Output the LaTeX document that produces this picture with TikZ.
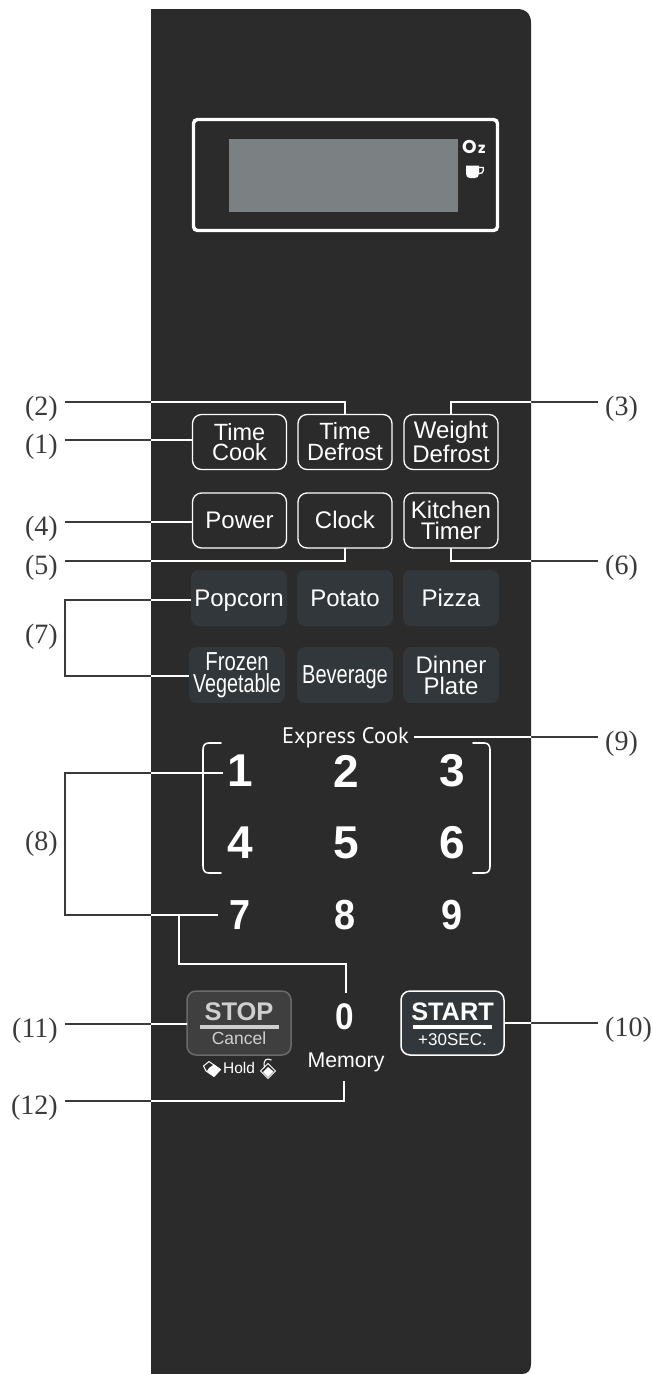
\documentclass[tikz,border=0pt]{standalone}
\usepackage{fontspec}
\usepackage{graphicx}
\setmainfont{Liberation Sans}
\newfontfamily\labfont{Liberation Serif}
\newfontfamily\expfont{PT Sans}
\newfontfamily\ozfont{Poppins}
\definecolor{panelc}{HTML}{2B2B2B}
\definecolor{softc}{HTML}{32373B}
\definecolor{screenc}{HTML}{7B8083}
\definecolor{inkc}{HTML}{3A3A3A}
\definecolor{stopc}{HTML}{3F3F3F}
\definecolor{stopedge}{HTML}{6A6A6A}
\definecolor{stoptext}{HTML}{CFCFCF}
\tikzset{
  keybtn/.style={draw=white,line width=1.3pt,rounded corners=9pt,minimum width=94pt,minimum height=55pt,outer sep=0pt,inner sep=0pt,text=white,align=center,font=\fontsize{24}{21}\selectfont},
  softbtn/.style={fill=softc,rounded corners=8pt,minimum width=96pt,minimum height=56pt,outer sep=0pt,inner sep=0pt,text=white,align=center,font=\fontsize{24}{21}\selectfont},
  condensed/.style={font=\fontsize{26}{21.5}\selectfont},
  labl/.style={anchor=east,inner ysep=0pt,inner xsep=7pt,text height=26pt,text depth=0pt,text=inkc,font=\labfont\fontsize{28}{28}\selectfont},
  labr/.style={anchor=west,inner ysep=0pt,inner xsep=7pt,text height=26pt,text depth=0pt,text=inkc,font=\labfont\fontsize{28}{28}\selectfont},
  digit/.style={text=white,inner sep=0pt,font=\bfseries\fontsize{46}{46}\selectfont},
  digitb/.style={text=white,inner sep=0pt,font=\bfseries\fontsize{42}{42}\selectfont},
  plain/.style={text=white,inner sep=0pt},
  leaderdark/.style={draw=inkc,line width=2pt},
  leaderlight/.style={draw=white,line width=2pt},
  rim/.style={draw=white,line width=1.6pt,line cap=round}
}
\newcommand{\leaderline}[1]{%
  \draw[leaderdark] #1;
  \begin{scope}
    \clip (151,0) rectangle (531,1374);
    \draw[leaderlight] #1;
  \end{scope}}
\begin{document}
\begin{tikzpicture}[x=1pt,y=-1pt]
\useasboundingbox (0,0) rectangle (653,1374);
\fill[white] (0,0) rectangle (653,1374);
% panel
\fill[panelc] (151,9) -- (517,9) .. controls (526,9) and (531,14) .. (531,23) -- (531,1364) .. controls (531,1370) and (528,1374) .. (522,1374) -- (151,1374) -- cycle;
% display
\node[draw=white,line width=3.4pt,rounded corners=4pt,minimum width=304pt,minimum height=111pt,outer sep=0pt] (frame) at (345.5,175) {};
\node[fill=screenc,minimum width=229pt,minimum height=73pt,outer sep=0pt,inner sep=0pt] (screen) at (343.5,175.5) {};
\node[plain,anchor=base west] (oz) at (462,153.5) {\ozfont\bfseries\fontsize{18.5}{18}\selectfont O\fontsize{15}{14}\selectfont\kern1.5pt z};
% cup
\fill[white] (466,165.5) -- (479,165.5) -- (479,173.5) .. controls (479,176.5) and (477.5,178) .. (475,178) -- (470,178) .. controls (467.5,178) and (466,176.5) .. (466,173.5) -- cycle;
\draw[white,line width=1.3pt] (479,167.5) -- (483.3,167.5) -- (483.3,170.5) .. controls (483.3,173) and (481,173.5) .. (479,173.5);
% keys
\node[keybtn,font=\fontsize{23.5}{20}\selectfont] (timecook) at (239.5,442) {Time\\Cook};
\node[keybtn,font=\fontsize{23.5}{21}\selectfont] (timedefrost) at (345,442) {Time\\Defrost};
\node[keybtn] (weightdefrost) at (451,442) {Weight\\Defrost};
\node[keybtn,text height=15pt,text depth=0pt] (power) at (239.5,520.5) {Power};
\node[keybtn,text height=15pt,text depth=0pt] (clock) at (345,520.5) {Clock};
\node[keybtn] (kitchen) at (451,520.5) {Kitchen\\Timer};
\node[softbtn,text height=16pt,text depth=0pt] (popcorn) at (239,598) {Popcorn};
\node[softbtn,text height=16pt,text depth=0pt] (potato) at (345,598) {Potato};
\node[softbtn,text height=16pt,text depth=0pt] (pizza) at (451,598) {Pizza};
\node[softbtn,condensed] (frozen) at (237,675) {\scalebox{.78}[1]{Frozen}\\\scalebox{.76}[1]{Vegetable}};
\node[softbtn,condensed,text height=17pt,text depth=0pt] (beverage) at (345,675) {\scalebox{.77}[1]{Beverage}};
\node[softbtn] (dinner) at (451,675) {Dinner\\Plate};
% express cook
\node[plain,font=\expfont\fontsize{22.5}{22}\selectfont] (express) at (345.5,738) {Express Cook};
\draw[rim] (221,743) -- (209,743) .. controls (205,743) and (203,745) .. (203,750) -- (203,866) .. controls (203,871) and (205,873) .. (209,873) -- (221,873);
\draw[rim] (473,743) -- (484,743) .. controls (488,743) and (490,745) .. (490,750) -- (490,866) .. controls (490,871) and (488,873) .. (484,873) -- (473,873);
% digits
\node[digit] (d1) at (240,771) {1};
\node[digit] (d2) at (346,771) {2};
\node[digit] (d3) at (452,771) {3};
\node[digit] (d4) at (240,843) {4};
\node[digit] (d5) at (346,843) {5};
\node[digit] (d6) at (452,843) {6};
\node[digitb] (d7) at (240,915) {\scalebox{.9}[1]{7}};
\node[digitb] (d8) at (345.5,915) {\scalebox{.9}[1]{8}};
\node[digitb] (d9) at (452,915) {\scalebox{.9}[1]{9}};
\node[plain,font=\bfseries\fontsize{37}{37}\selectfont] (d0) at (345,1017) {\scalebox{.9}[1]{0}};
\node[plain,font=\fontsize{21.3}{21}\selectfont] (memory) at (346,1062) {Memory};
% stop
\node[draw=stopedge,fill=stopc,line width=1.5pt,rounded corners=9pt,minimum width=104pt,minimum height=64pt,outer sep=0pt] (stop) at (239,1023) {};
\node[text=stoptext,inner sep=0pt,anchor=base,font=\bfseries\fontsize{25.5}{25}\selectfont] (stoptxt) at (239,1020.5) {STOP};
\fill[stoptext] (200,1025) rectangle (279,1029);
\node[text=stoptext,inner sep=0pt,anchor=base,font=\fontsize{17.5}{17}\selectfont] (canceltxt) at (239,1044) {Cancel};
\node[plain,font=\fontsize{15.5}{15}\selectfont] (hold) at (239,1068) {Hold};
% tags
\draw[white,line width=1pt,fill=panelc,line join=round] (203.5,1066) -- (209,1061.5) -- (220.5,1069.5) -- (214,1076.5) -- (206,1071) -- cycle;
\fill[white] (209,1068) -- (214,1064.5) -- (220.5,1069.5) -- (214,1076.5) -- (207,1071) -- cycle;
\draw[white,line width=1pt,fill=panelc,line join=round] (260.5,1071) -- (268,1063.5) -- (275.5,1071) -- (268,1078.5) -- cycle;
\fill[white] (263,1072) -- (268,1067) -- (273.5,1071.5) -- (268,1077) -- cycle;
\draw[white,line width=1.1pt] (264.5,1067.5) .. controls (263,1060) and (266,1057.5) .. (271.5,1060);
% start
\node[draw=white,fill=softc,line width=1.5pt,rounded corners=9pt,minimum width=103pt,minimum height=64pt,outer sep=0pt] (start) at (452.5,1023) {};
\node[text=white,inner sep=0pt,anchor=base,font=\bfseries\fontsize{25.3}{25}\selectfont] (starttxt) at (452.5,1020.5) {START};
\fill[white] (413,1025) rectangle (492,1029);
\node[text=white,inner sep=0pt,anchor=base,font=\fontsize{17}{17}\selectfont] (plus) at (452.5,1045) {+30SEC.};
% labels
\node[labl] (l2) at (65,402) {(2)};
\node[labl] (l1) at (65,440) {(1)};
\node[labl] (l4) at (65,522) {(4)};
\node[labl] (l5) at (65,561) {(5)};
\node[labl] (l7) at (65,630) {(7)};
\node[labl] (l8) at (65,837) {(8)};
\node[labl] (l11) at (65,1024) {(11)};
\node[labl] (l12) at (65,1101) {(12)};
\node[labr] (l3) at (598,402) {(3)};
\node[labr] (l6) at (598,561) {(6)};
\node[labr] (l9) at (598,737) {(9)};
\node[labr] (l10) at (598,1023) {(10)};
% free corners
\coordinate (b7a) at (191,600);
\coordinate (b7b) at (189,676);
\coordinate (b8a) at (223,773);
\coordinate (b8b) at (218,915);
\coordinate (sp8) at (179,915);
\coordinate (zero) at (346,993);
\coordinate (memo) at (344,1081);
\coordinate (exr) at (414,737);
% connectors
\leaderline{(l2.east) -| (timedefrost.north)}
\leaderline{(l3.west) -| (weightdefrost.north)}
\leaderline{(l1.east) -- (timecook.west |- l1.east)}
\leaderline{(l4.east) -- (power.west |- l4.east)}
\leaderline{(l5.east) -| (clock.south)}
\leaderline{(l6.west) -| (kitchen.south)}
\leaderline{(b7a) -- (65,600) -- (65,676) -- (b7b)}
\leaderline{(b8a) -- (65,773) -- (65,915) -- (b8b)}
\leaderline{(sp8) |- (346,964) -- (zero)}
\leaderline{(exr) -- (l9.west)}
\leaderline{(l10.west) -- (start.east |- l10.west)}
\leaderline{(l11.east) -- (stop.west |- l11.east)}
\leaderline{(l12.east) -| (memo)}
\end{tikzpicture}
\end{document}
